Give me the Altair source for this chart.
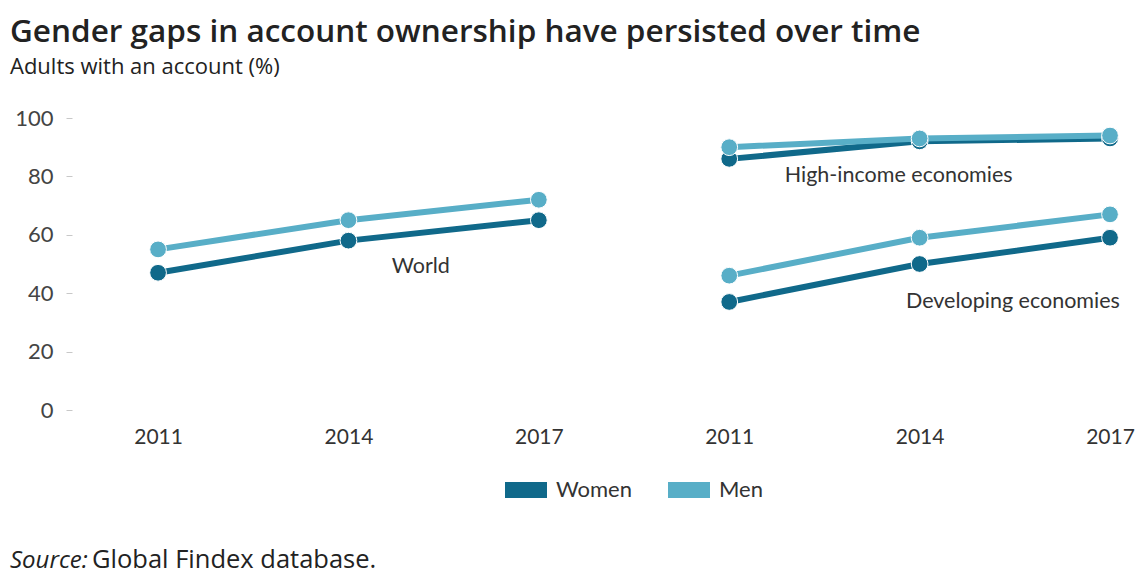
import altair as alt
import pandas as pd

years = [2011, 2014, 2017]
groups = ["World", "High-income economies", "Developing economies"]
panel_of_group = [0, 1, 1]
women = {
    "World": [47, 58, 65],
    "High-income economies": [86, 92, 93],
    "Developing economies": [37, 50, 59],
}
men = {
    "World": [55, 65, 72],
    "High-income economies": [90, 93, 94],
    "Developing economies": [46, 59, 67],
}
genders = ["Women", "Men"]
colors = ["#10698a", "#58aec7"]

# annotation labels (position index, value)
label_text = ["World", "High-income economies", "Developing economies"]
label_pos = [1.38, 3.89, 4.49]
label_val = [49, 80, 37]

tick_labels = ["2011", "2014", "2017", "2011", "2014", "2017"]

rows = []
for g, p in zip(groups, panel_of_group):
    for i, y in enumerate(years):
        rows.append({"group": g, "gender": "Women", "panel": p, "year": y, "value": women[g][i]})
        rows.append({"group": g, "gender": "Men", "panel": p, "year": y, "value": men[g][i]})
df = pd.DataFrame(rows)
lab = pd.DataFrame({"text": label_text, "pos": label_pos, "value": label_val})

FONT = "Lato"
TFONT = "Open Sans"
label_expr = "[" + ",".join(f"'{t}'" for t in tick_labels) + "][datum.value]"

xscale = alt.Scale(domain=[-0.452, 5.147], nice=False, zero=False)
yscale = alt.Scale(domain=[0, 100], nice=False)
cscale = alt.Scale(domain=genders, range=colors)

base = alt.Chart(df).transform_calculate(
    pos="datum.panel * 3 + (datum.year - 2011) / 3",
    series="datum.group + '-' + datum.gender",
)

x_enc = alt.X(
    "pos:Q", scale=xscale,
    axis=alt.Axis(values=list(range(6)), labelExpr=label_expr, title=None, grid=False,
                  domain=False, ticks=False, labelFontSize=21, labelColor="#333",
                  labelPadding=16, labelFont=FONT),
)
y_enc = alt.Y(
    "value:Q", scale=yscale,
    axis=alt.Axis(values=[0, 20, 40, 60, 80, 100], title=None, grid=False, domain=False,
                  tickSize=6, tickColor="#c8c8c8", labelFontSize=22, labelColor="#444",
                  labelPadding=13, labelFont=FONT),
)

lines = base.mark_line(strokeWidth=6).encode(
    x=x_enc, y=y_enc,
    stroke=alt.Stroke(
        "gender:N", scale=cscale, sort=genders,
        legend=alt.Legend(
            title=None, orient="none", legendX=425, legendY=343, direction="horizontal",
            symbolType="M-1,0H1", symbolSize=1764, symbolStrokeWidth=16,
            labelFontSize=22, labelColor="#333", labelFont=FONT, labelOffset=1,
            columnPadding=4, padding=0,
        ),
    ),
    detail="series:N",
)
points = base.mark_point(filled=True, size=280, stroke="white", strokeWidth=1, opacity=1).encode(
    x="pos:Q", y="value:Q",
    fill=alt.Fill("gender:N", scale=cscale, legend=None),
)
labels = alt.Chart(lab).mark_text(fontSize=21.5, color="#333", font=FONT).encode(
    x="pos:Q", y="value:Q", text="text:N"
)

src1 = alt.Chart(pd.DataFrame({"t": ["Source:"]})).mark_text(
    fontSize=24, font=TFONT, fontStyle="italic", align="left", baseline="alphabetic", color="#222"
).encode(x=alt.value(-62), y=alt.value(450), text="t:N")
src2 = alt.Chart(pd.DataFrame({"t": ["Global Findex database."]})).mark_text(
    fontSize=25.5, font=TFONT, align="left", baseline="alphabetic", color="#222"
).encode(x=alt.value(20), y=alt.value(450), text="t:N")

chart = alt.layer(lines, points, labels, src1, src2).properties(
    width=1066, height=292,
    title=alt.TitleParams(
        "Gender gaps in account ownership have persisted over time",
        subtitle="Adults with an account (%)",
        anchor="start", frame="group", dx=-62, font=TFONT, fontSize=31.5, fontWeight=600,
        color="#222", subtitleFont=TFONT, subtitleFontSize=22, subtitleColor="#222",
        offset=29, subtitlePadding=9,
    ),
    autosize=alt.AutoSizeParams(type="none"),
    padding={"left": 72, "top": 118, "right": 4, "bottom": 165},
).configure_view(stroke=None)

chart.save("out.html", embed_options={"renderer": "svg", "actions": False})
